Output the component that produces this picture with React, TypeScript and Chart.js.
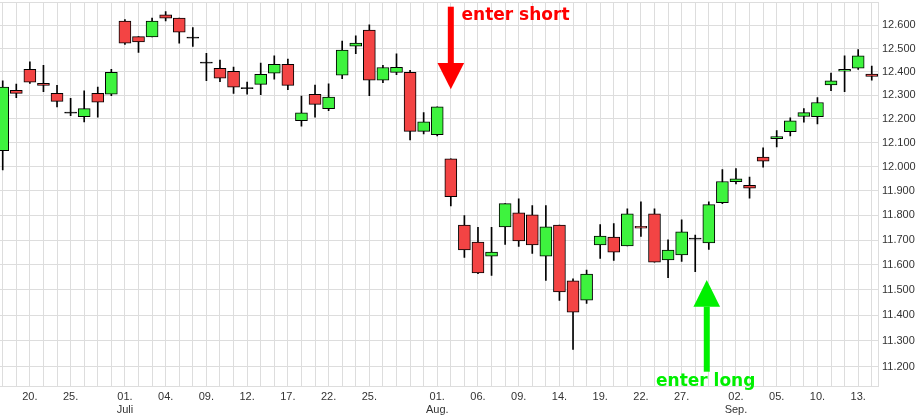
import React, { useEffect, useRef } from "react";
import { Chart, registerables } from "chart.js";

Chart.register(...registerables);

// Trading days (DAX, 2019-06-18 .. 2019-09-16)
const dates = [
  "2019-06-18", "2019-06-19", "2019-06-20", "2019-06-21", "2019-06-24", "2019-06-25", "2019-06-26", "2019-06-27", "2019-06-28",
  "2019-07-01", "2019-07-02", "2019-07-03", "2019-07-04", "2019-07-05", "2019-07-08", "2019-07-09", "2019-07-10", "2019-07-11",
  "2019-07-12", "2019-07-15", "2019-07-16", "2019-07-17", "2019-07-18", "2019-07-19", "2019-07-22", "2019-07-23", "2019-07-24",
  "2019-07-25", "2019-07-26", "2019-07-29", "2019-07-30", "2019-07-31",
  "2019-08-01", "2019-08-02", "2019-08-05", "2019-08-06", "2019-08-07", "2019-08-08", "2019-08-09", "2019-08-12", "2019-08-13",
  "2019-08-14", "2019-08-15", "2019-08-16", "2019-08-19", "2019-08-20", "2019-08-21", "2019-08-22", "2019-08-23", "2019-08-26",
  "2019-08-27", "2019-08-28", "2019-08-29", "2019-08-30",
  "2019-09-02", "2019-09-03", "2019-09-04", "2019-09-05", "2019-09-06", "2019-09-09", "2019-09-10", "2019-09-11", "2019-09-12",
  "2019-09-13", "2019-09-16",
];

const opens = [
  12067, 12321, 12410, 12351, 12308, 12224, 12209, 12308, 12304,
  12619, 12551, 12550, 12646, 12632, 12545, 12437, 12415, 12402,
  12328, 12346, 12394, 12432, 12192, 12304, 12243, 12385, 12510,
  12580, 12364, 12397, 12397, 12147,
  12134, 12033, 11761, 11692, 11635, 11753, 11810, 11802, 11635,
  11761, 11536, 11460, 11680, 11712, 11676, 11756, 11806, 11620,
  11640, 11704, 11688, 11852,
  11938, 11923, 12040, 12117, 12146, 12210, 12209, 12344, 12402,
  12415, 12390,
];
const highs = [
  12361, 12347, 12442, 12428, 12342, 12287, 12319, 12334, 12410,
  12625, 12551, 12632, 12660, 12632, 12590, 12479, 12450, 12420,
  12356, 12437, 12468, 12454, 12296, 12343, 12348, 12532, 12555,
  12602, 12428, 12477, 12406, 12226,
  12251, 12033, 11799, 11751, 11751, 11848, 11868, 11840, 11840,
  11761, 11544, 11579, 11763, 11767, 11827, 11855, 11827, 11701,
  11782, 11720, 11855, 11988,
  11992, 11957, 12079, 12151, 12204, 12243, 12290, 12394, 12468,
  12495, 12424,
];
const lows = [
  11987, 12290, 12350, 12315, 12250, 12213, 12187, 12207, 12298,
  12517, 12483, 12550, 12619, 12523, 12509, 12362, 12358, 12307,
  12304, 12302, 12368, 12324, 12169, 12207, 12234, 12370, 12478,
  12298, 12353, 12387, 12111, 12137,
  12128, 11839, 11630, 11565, 11558, 11682, 11674, 11646, 11538,
  11459, 11266, 11447, 11626, 11618, 11676, 11715, 11611, 11549,
  11614, 11573, 11662, 11848,
  11929, 11870, 11998, 12082, 12128, 12186, 12179, 12319, 12315,
  12410, 12364,
];
const closes = [
  12334, 12308, 12355, 12342, 12274, 12224, 12243, 12270, 12397,
  12523, 12528, 12619, 12632, 12571, 12545, 12437, 12372, 12334,
  12328, 12389, 12432, 12342, 12225, 12261, 12292, 12493, 12523,
  12364, 12418, 12419, 12147, 12187,
  12251, 11877, 11660, 11568, 11651, 11848, 11696, 11680, 11753,
  11492, 11412, 11563, 11716, 11651, 11806, 11748, 11611, 11660,
  11733, 11704, 11844, 11939,
  11950, 11911, 12023, 12126, 12192, 12226, 12269, 12361, 12410,
  12468, 12380,
];

// x-axis tick labels (shown only on these dates)
const tickDates = [
  "2019-06-20", "2019-06-25", "2019-07-01", "2019-07-04", "2019-07-09", "2019-07-12", "2019-07-17", "2019-07-22", "2019-07-25",
  "2019-08-01", "2019-08-06", "2019-08-09", "2019-08-14", "2019-08-19", "2019-08-22", "2019-08-27",
  "2019-09-02", "2019-09-05", "2019-09-10", "2019-09-13",
];
const tickTexts: (string | string[])[] = [
  "20.", "25.", ["01.", "Juli"], "04.", "09.", "12.", "17.", "22.", "25.",
  ["01.", "Aug."], "06.", "09.", "14.", "19.", "22.", "27.",
  ["02.", "Sep."], "05.", "10.", "13.",
];

// y-axis ticks
const yTicks = [11200, 11300, 11400, 11500, 11600, 11700, 11800, 11900, 12000, 12100, 12200, 12300, 12400, 12500, 12600, 12700];

const UP = "#3ef33e";
const DOWN = "#f34444";

const fmt = (v: number) => {
  const s = Math.round(v).toString();
  return s.slice(0, s.length - 3) + "." + s.slice(s.length - 3);
};

// annotation arrows (x in trading-day index units, y in pixels)
const arrows = [
  { at: 33, color: "#ff0000", tail: 6.7, headBase: 63, tip: 89.3 },
  { at: 51.85, color: "#00f000", tail: 371.7, headBase: 306.7, tip: 280 },
];

const arrowPlugin = {
  id: "arrows",
  afterDatasetsDraw(chart: any) {
    const { ctx, scales } = chart;
    const x = scales.x;
    ctx.save();
    for (const a of arrows) {
      const cx = x.getPixelForValue(a.at);
      ctx.fillStyle = a.color;
      const top = Math.min(a.tail, a.headBase);
      const h = Math.abs(a.headBase - a.tail);
      ctx.fillRect(cx - 3, top, 6, h);
      ctx.beginPath();
      ctx.moveTo(cx - 13.3, a.headBase);
      ctx.lineTo(cx + 13.3, a.headBase);
      ctx.lineTo(cx, a.tip);
      ctx.closePath();
      ctx.fill();
    }
    ctx.restore();
  },
};

export default function App() {
  const ref = useRef<HTMLCanvasElement | null>(null);

  useEffect(() => {
    document.body.style.margin = "0";
    if (!ref.current) return;

    const wickData = dates.map((_, i) => ({ x: i, y: [lows[i], highs[i]] }));
    const bodyData = dates.map((_, i) => ({ x: i, y: [Math.min(opens[i], closes[i]), Math.max(opens[i], closes[i])] }));
    const bodyColors = dates.map((_, i) =>
      closes[i] > opens[i] ? UP : closes[i] < opens[i] ? DOWN : "#000000"
    );

    const tickFont = { family: '"Liberation Sans", Arial, sans-serif', size: 11 };

    const chart = new Chart(ref.current, {
      type: "bar",
      data: {
        datasets: [
          {
            label: "wick",
            data: wickData as any,
            backgroundColor: "#000000",
            barThickness: 1,
            grouped: false,
            order: 2,
          } as any,
          {
            label: "body",
            data: bodyData as any,
            backgroundColor: bodyColors,
            borderColor: "#000000",
            borderWidth: 1,
            borderSkipped: false,
            barThickness: 12,
            minBarLength: 1,
            grouped: false,
            order: 1,
          } as any,
        ],
      },
      options: {
        animation: false,
        responsive: false,
        devicePixelRatio: 1,
        layout: { padding: { top: 2.5, left: 0, right: 0, bottom: 0 } },
        plugins: {
          legend: { display: false },
          tooltip: { enabled: false },
        },
        scales: {
          x: {
            type: "linear",
            offset: false,
            min: -0.2,
            max: 64.46,
            afterBuildTicks: (axis: any) => {
              axis.ticks = dates.map((_, i) => ({ value: i }));
            },
            afterFit: (axis: any) => {
              axis.height = 31;
              axis.paddingLeft = 0;
              axis.paddingRight = 0;
            },
            grid: { color: "#dddddd", drawTicks: false, offset: false },
            border: { color: "#dddddd" },
            ticks: {
              autoSkip: false,
              maxRotation: 0,
              padding: 4,
              color: "#333333",
              font: tickFont,
              callback: (value: any) => {
                const d = dates[Math.round(Number(value))];
                const k = tickDates.indexOf(d);
                return k >= 0 ? tickTexts[k] : "";
              },
            },
          },
          y: {
            type: "logarithmic",
            position: "right",
            min: 11125,
            max: 12700,
            afterBuildTicks: (axis: any) => {
              axis.ticks = yTicks.map((v) => ({ value: v }));
            },
            afterFit: (axis: any) => {
              axis.width = 41;
              axis.paddingTop = 0;
              axis.paddingBottom = 0;
            },
            grid: { color: "#dddddd", drawTicks: false },
            border: { color: "#dddddd" },
            ticks: {
              padding: 4,
              color: "#333333",
              font: tickFont,
              callback: (value: any) => (Number(value) === 12700 ? "" : fmt(Number(value))),
            },
          },
        } as any,
      },
      plugins: [arrowPlugin],
    } as any);

    return () => chart.destroy();
  }, []);

  const noteStyle: React.CSSProperties = {
    position: "absolute",
    fontFamily: '"DejaVu Sans", Verdana, sans-serif',
    fontWeight: "bold",
    fontSize: 17,
    lineHeight: "17px",
    whiteSpace: "nowrap",
  };

  return (
    <div style={{ position: "relative", width: 919, height: 417, overflow: "hidden" }}>
      <canvas ref={ref} width={919} height={417} style={{ display: "block" }} />
      <div style={{ ...noteStyle, left: 461.5, top: 6.3, color: "#ff0000" }}>enter short</div>
      <div style={{ ...noteStyle, left: 656, top: 372.3, color: "#00f000" }}>enter long</div>
    </div>
  );
}
